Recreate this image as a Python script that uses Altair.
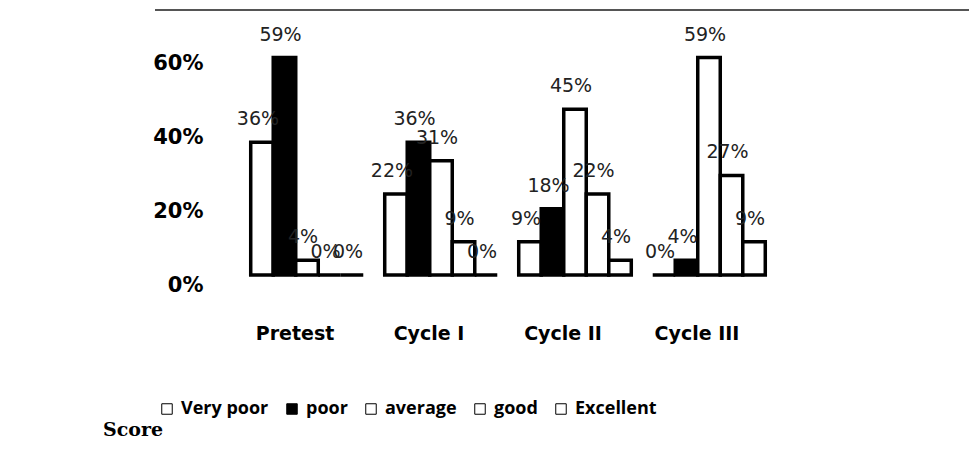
import altair as alt
import pandas as pd

groups = ["Pretest", "Cycle I", "Cycle II", "Cycle III"]
series = ["Very poor", "poor", "average", "good", "Excellent"]
very_poor = [36, 22, 9, 0]
poor = [59, 36, 18, 4]
average = [4, 31, 45, 59]
good = [0, 9, 22, 27]
excellent = [0, 0, 4, 9]
fills = ["white", "black", "white", "white", "white"]
caption = "Score"

rows = []
for s, vals in zip(series, [very_poor, poor, average, good, excellent]):
    for g, v in zip(groups, vals):
        rows.append({"group": g, "series": s, "value": v, "label": f"{v}%"})
df = pd.DataFrame(rows)

base = alt.Chart(df)
x_enc = alt.X("group:N", sort=groups,
              scale=alt.Scale(paddingInner=0.16, paddingOuter=0.08),
              axis=alt.Axis(title=None, labelAngle=0, ticks=False, domain=False,
                            labelPadding=49, labelFont="DejaVu Sans", labelFontWeight="bold",
                            labelFontSize=19, labelColor="black", labelOffset=-12))
xo_enc = alt.XOffset("series:N", sort=series, scale=alt.Scale(paddingInner=0, paddingOuter=0))
y_enc = alt.Y("value:Q", scale=alt.Scale(domain=[0, 70]),
              axis=alt.Axis(values=[0, 20, 40, 60], labelExpr="datum.value + '%'",
                            title=None, grid=False, domain=False, ticks=False,
                            labelPadding=37, labelOffset=10, labelFont="DejaVu Sans",
                            labelFontWeight="bold", labelFontSize=21, labelColor="black"))

bars = base.mark_bar(stroke="black", strokeWidth=3.5).encode(
    x=x_enc, xOffset=xo_enc, y=y_enc,
    fill=alt.Fill("series:N", sort=series,
                  scale=alt.Scale(domain=series, range=fills),
                  legend=alt.Legend(orient="none", legendX=-82, legendY=383,
                                    direction="horizontal", columns=5, title=None,
                                    symbolType="square", symbolSize=110,
                                    symbolStrokeColor="black", symbolStrokeWidth=1,
                                    labelFont="Open Sans", labelFontWeight="bold",
                                    labelFontSize=18, labelColor="black",
                                    labelOffset=5, columnPadding=14)),
)

labels = base.mark_text(baseline="bottom", dy=-13, dx=-4, font="DejaVu Sans",
                        fontSize=19, color="#222").encode(
    x=x_enc, xOffset=xo_enc, y=y_enc, text="label:N")

one = alt.Data(values=[{}])
top_rule = alt.Chart(one).mark_rule(color="#555", strokeWidth=2).encode(
    x=alt.value(-85), x2=alt.value(737), y=alt.value(-7))
score = alt.Chart(one).mark_text(text=caption, font="DejaVu Serif", fontWeight="bold",
                                 fontSize=19, align="left", baseline="middle",
                                 color="black").encode(x=alt.value(-137), y=alt.value(413))

chart = alt.layer(bars, labels, top_rule, score).properties(
    width=536, height=258,
    autosize=alt.AutoSizeParams(type="none"),
    padding={"left": 232, "top": 9, "right": 193, "bottom": 178},
).configure_view(stroke=None)

chart.save("out.html", embed_options={"renderer": "svg", "actions": False})
